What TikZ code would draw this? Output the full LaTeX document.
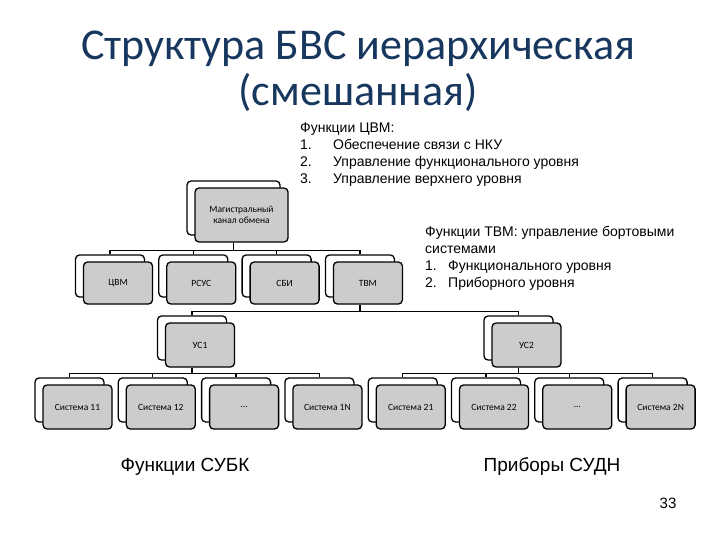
\documentclass[tikz,border=0pt]{standalone}
\usepackage{fontspec}
\setmainfont{Liberation Sans}
\newfontfamily\calfont{Carlito}
\usetikzlibrary{positioning,shadows}
\definecolor{titleblue}{RGB}{23,55,94}
\definecolor{boxgray}{RGB}{204,204,204}

\begin{document}
\begin{tikzpicture}[
  x=1pt, y=-1pt,
  node distance=7mm and 13pt,
  unit/.style={draw=black,fill=boxgray,rounded corners=4pt,line width=1.3pt,
    minimum width=69pt,minimum height=44pt,inner sep=1pt,align=center,
    font=\calfont\fontsize{9.5}{11}\selectfont,
    copy shadow={shadow xshift=-8pt,shadow yshift=7pt,fill=white,draw=black,line width=1.3pt}},
  link/.style={draw=black,line width=1.3pt},
  info/.style={anchor=north west,align=left,inner sep=0pt,font=\fontsize{14}{17}\selectfont},
  caption/.style={font=\fontsize{19}{22}\selectfont},
  headline/.style={font=\calfont\fontsize{44}{52}\selectfont,text=titleblue,anchor=base}
]
  \useasboundingbox (0,0) rectangle (720,540);

  \node[headline] (title1) at (358,60) {Структура БВС иерархическая};
  \node[headline] (title2) at (358,106) {(смешанная)};

  % boxes
  \node[unit,minimum width=93pt,minimum height=54pt] (magistral) at (241.5,215) {Магистральный\\канал обмена};
  \node[unit,minimum height=42pt] (cvm) at (118,283) {ЦВМ};
  \node[unit,minimum height=42pt,right=of cvm] (rsus) {РСУС};
  \node[unit,minimum height=42pt,right=of rsus] (sbi) {СБИ};
  \node[unit,minimum height=42pt,right=of sbi] (tvm) {ТВМ};
  \node[unit] (us1) at (200,345) {УС1};
  \node[unit] (us2) at (526.5,345) {УС2};
  \node[unit] (s11) at (77.5,407) {Система 11};
  \node[unit,right=of s11] (s12) {Система 12};
  \node[unit,right=of s12] (s1x) {\dots};
  \node[unit,right=of s1x] (s1n) {Система 1N};
  \node[unit,right=of s1n] (s21) {Система 21};
  \node[unit,right=of s21] (s22) {Система 22};
  \node[unit,right=of s22] (s2x) {\dots};
  \node[unit,right=of s2x] (s2n) {Система 2N};

  % tree lines
  \foreach \c in {cvm,rsus,sbi,tvm}
    \draw[link] ([xshift=-8pt]magistral.south) -- ++(0,8) -| ([xshift=-8pt,yshift=7pt]\c.north);
  \foreach \c in {us1,us2}
    \draw[link] ([xshift=-8pt]tvm.south) -- ++(0,7) -| ([xshift=-8pt,yshift=7pt]\c.north);
  \foreach \c in {s11,s12,s1x,s1n}
    \draw[link] ([xshift=-8pt]us1.south) -- ++(0,6) -| ([xshift=-8pt,yshift=7pt]\c.north);
  \foreach \c in {s21,s22,s2x,s2n}
    \draw[link] ([xshift=-8pt]us2.south) -- ++(0,6) -| ([xshift=-8pt,yshift=7pt]\c.north);

  % notes
  \node[info] (fcvm) at (300,123) {Функции ЦВМ:\\
    \makebox[33pt][l]{1.}Обеспечение связи с НКУ\\
    \makebox[33pt][l]{2.}Управление функционального уровня\\
    \makebox[33pt][l]{3.}Управление верхнего уровня};
  \node[info] (ftvm) at (425,226) {Функции ТВМ: управление бортовыми\\
    системами\\
    \makebox[23pt][l]{1.}Функционального уровня\\
    \makebox[23pt][l]{2.}Приборного уровня};

  \node[caption] (subk) at (185,467) {Функции СУБК};
  \node[caption] (sudn) at (552,467) {Приборы СУДН};
  \node[font=\fontsize{15}{17}\selectfont] (page) at (668,503) {33};
\end{tikzpicture}
\end{document}
